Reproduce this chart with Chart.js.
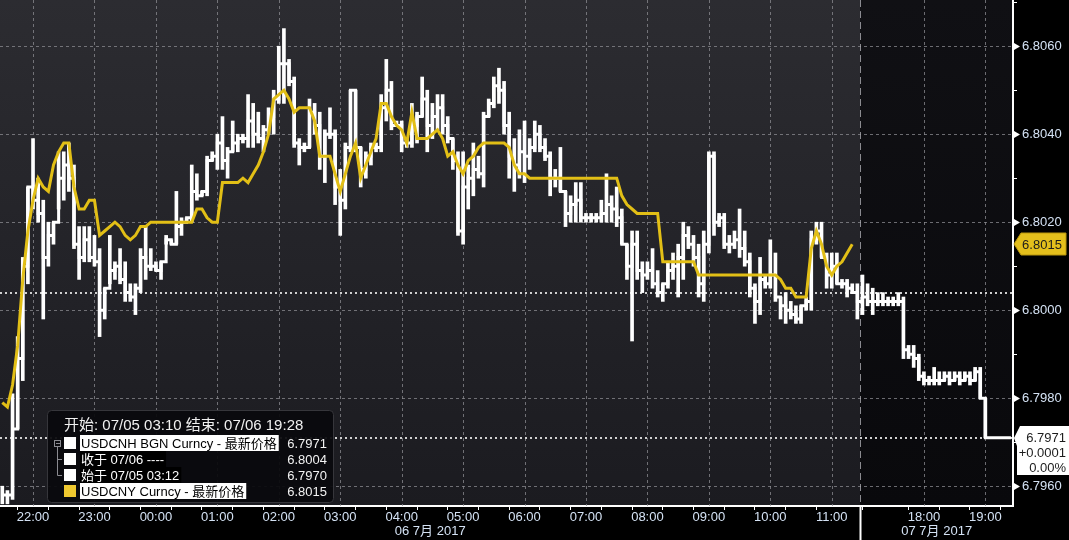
<!DOCTYPE html>
<html><head><meta charset="utf-8">
<script src="https://cdn.jsdelivr.net/npm/chart.js@4.4.1/dist/chart.umd.min.js"></script>
<style>html,body{margin:0;padding:0;background:#000;overflow:hidden}canvas{display:block}</style>
</head><body><canvas id="c" width="1069" height="540"></canvas>
<script>
// ---- data (5-minute bars, USDCNH; session 1 starts 21:30, session 2 starts 17:00) ----
const sessionStarts = ['21:30', '17:00'];
const sessionBars = [168, 30];
const barMinutes = 5;

const cnhHigh = [
6.7960,6.7959,6.7981,6.7994,6.8012,6.8028,6.8039,6.8030,6.8025,6.8020,
6.8020,6.8036,6.8036,6.8038,6.8033,6.8019,6.8019,6.8019,6.8017,6.8014,
6.8005,6.8017,6.8011,6.8014,6.8011,6.8006,6.8006,6.8014,6.8019,6.8014,
6.8011,6.8011,6.8017,6.8016,6.8027,6.8021,6.8021,6.8033,6.8031,6.8027,
6.8035,6.8036,6.8040,6.8044,6.8037,6.8043,6.8040,6.8040,6.8049,6.8047,
6.8045,6.8042,6.8046,6.8050,6.8060,6.8064,6.8057,6.8053,6.8039,6.8038,
6.8048,6.8047,6.8045,6.8041,6.8046,6.8041,6.8032,6.8038,6.8050,6.8050,
6.8037,6.8036,6.8038,6.8038,6.8049,6.8057,6.8052,6.8043,6.8043,6.8039,
6.8047,6.8045,6.8053,6.8050,6.8047,6.8049,6.8049,6.8044,6.8039,6.8036,
6.8036,6.8033,6.8038,6.8035,6.8045,6.8048,6.8053,6.8055,6.8052,6.8045,
6.8039,6.8041,6.8043,6.8039,6.8043,6.8042,6.8039,6.8036,6.8032,6.8037,
6.8027,6.8026,6.8029,6.8029,6.8022,6.8022,6.8022,6.8025,6.8031,6.8026,
6.8028,6.8023,6.8015,6.8018,6.8018,6.8011,6.8011,6.8014,6.8009,6.8006,
6.8011,6.8013,6.8015,6.8020,6.8019,6.8017,6.8015,6.8018,6.8036,6.8036,
6.8022,6.8022,6.8017,6.8018,6.8023,6.8018,6.8013,6.8006,6.8012,6.8008,
6.8016,6.8013,6.8003,6.8004,6.8002,6.8001,6.8001,6.8003,6.8018,6.8020,
6.8020,6.8013,6.8013,6.8013,6.8007,6.8007,6.8006,6.8006,6.8008,6.8006,
6.8005,6.8004,6.8004,6.8003,6.8003,6.8004,6.8003,6.7992,6.7992,6.7990,
6.7986,6.7985,6.7987,6.7986,6.7986,6.7986,6.7986,6.7986,6.7986,6.7986,
6.7987,6.7987,6.7980,6.7971,6.7971,6.7971,6.7971,6.7971];

const cnhLow = [
6.7956,6.7956,6.7957,6.7973,6.7984,6.8006,6.8023,6.8020,6.7998,6.8010,
6.8015,6.8023,6.8025,6.8027,6.8014,6.8007,6.8011,6.8011,6.8010,6.7994,
6.7998,6.8006,6.8007,6.8006,6.8002,6.8002,6.7999,6.8004,6.8007,6.8009,
6.8009,6.8007,6.8015,6.8015,6.8015,6.8017,6.8020,6.8020,6.8025,6.8026,
6.8026,6.8034,6.8032,6.8032,6.8030,6.8036,6.8036,6.8038,6.8037,6.8037,
6.8038,6.8036,6.8040,6.8040,6.8047,6.8047,6.8051,6.8037,6.8033,6.8036,
6.8037,6.8040,6.8032,6.8029,6.8039,6.8024,6.8017,6.8023,6.8036,6.8036,
6.8028,6.8030,6.8033,6.8036,6.8036,6.8043,6.8041,6.8042,6.8036,6.8037,
6.8037,6.8038,6.8044,6.8036,6.8039,6.8041,6.8040,6.8038,6.8032,6.8017,
6.8015,6.8023,6.8026,6.8030,6.8028,6.8044,6.8046,6.8047,6.8040,6.8030,
6.8027,6.8030,6.8029,6.8032,6.8036,6.8036,6.8034,6.8026,6.8028,6.8027,
6.8019,6.8020,6.8020,6.8020,6.8020,6.8020,6.8020,6.8020,6.8020,6.8020,
6.8019,6.8015,6.8007,6.7993,6.8007,6.8004,6.8007,6.8005,6.8003,6.8002,
6.8005,6.8007,6.8003,6.8007,6.8014,6.8010,6.8003,6.8002,6.8013,6.8017,
6.8019,6.8014,6.8013,6.8014,6.8012,6.8010,6.8003,6.7997,6.7999,6.8005,
6.8005,6.8002,6.7998,6.7997,6.7998,6.7997,6.7997,6.8000,6.8000,6.8015,
6.8012,6.8005,6.8005,6.8006,6.8005,6.8003,6.8004,6.7998,6.7999,6.8001,
6.7999,6.8001,6.8001,6.8001,6.8001,6.8001,6.7989,6.7989,6.7987,6.7984,
6.7983,6.7983,6.7983,6.7983,6.7984,6.7983,6.7984,6.7983,6.7984,6.7983,
6.7984,6.7980,6.7971,6.7971,6.7971,6.7971,6.7971,6.7971];

const cnhClose = [
6.7958,6.7958,6.7973,6.7989,6.8010,6.8028,6.8025,6.8022,6.8012,6.8017,
6.8020,6.8030,6.8033,6.8030,6.8015,6.8012,6.8016,6.8012,6.8011,6.8000,
6.8005,6.8009,6.8010,6.8007,6.8004,6.8003,6.8005,6.8012,6.8010,6.8010,
6.8009,6.8011,6.8016,6.8015,6.8019,6.8020,6.8021,6.8027,6.8026,6.8027,
6.8034,6.8035,6.8038,6.8034,6.8036,6.8038,6.8039,6.8039,6.8043,6.8040,
6.8039,6.8041,6.8044,6.8048,6.8056,6.8056,6.8052,6.8038,6.8037,6.8037,
6.8045,6.8042,6.8035,6.8040,6.8040,6.8028,6.8025,6.8037,6.8050,6.8037,
6.8032,6.8035,6.8037,6.8037,6.8046,6.8050,6.8042,6.8042,6.8038,6.8038,
6.8042,6.8044,6.8048,6.8042,6.8044,6.8046,6.8042,6.8039,6.8034,6.8018,
6.8028,6.8030,6.8032,6.8031,6.8044,6.8047,6.8051,6.8050,6.8042,6.8035,
6.8033,6.8036,6.8035,6.8037,6.8040,6.8037,6.8035,6.8030,6.8030,6.8027,
6.8022,6.8024,6.8025,6.8021,6.8021,6.8021,6.8021,6.8022,6.8024,6.8023,
6.8021,6.8015,6.8010,6.8015,6.8009,6.8008,6.8009,6.8006,6.8004,6.8006,
6.8009,6.8010,6.8012,6.8017,6.8015,6.8012,6.8006,6.8015,6.8035,6.8020,
6.8021,6.8015,6.8015,6.8016,6.8014,6.8011,6.8005,6.8002,6.8007,6.8006,
6.8008,6.8003,6.8001,6.8000,6.7999,6.7998,6.8001,6.8002,6.8016,6.8018,
6.8012,6.8008,6.8010,6.8006,6.8006,6.8005,6.8004,6.8002,6.8003,6.8002,
6.8002,6.8002,6.8002,6.8002,6.8002,6.8002,6.7991,6.7990,6.7989,6.7985,
6.7984,6.7984,6.7984,6.7984,6.7985,6.7984,6.7985,6.7984,6.7985,6.7984,
6.7986,6.7980,6.7971,6.7971,6.7971,6.7971,6.7971,6.7971];

// USDCNY, same 5-minute slots, session 1 only
const cnyLine = [
6.7979,6.7978,6.7983,6.7992,6.8007,6.8018,6.8025,6.8030,6.8028,6.8027,
6.8033,6.8036,6.8038,6.8038,6.8028,6.8023,6.8023,6.8025,6.8025,6.8017,
6.8018,6.8019,6.8020,6.8019,6.8017,6.8016,6.8017,6.8019,6.8019,6.8020,
6.8020,6.8020,6.8020,6.8020,6.8020,6.8020,6.8020,6.8020,6.8023,6.8023,
6.8021,6.8020,6.8020,6.8029,6.8029,6.8029,6.8029,6.8030,6.8029,6.8031,
6.8033,6.8036,6.8040,6.8048,6.8049,6.8050,6.8048,6.8045,6.8046,6.8046,
6.8046,6.8043,6.8035,6.8035,6.8035,6.8031,6.8027,6.8031,6.8035,6.8038,
6.8030,6.8033,6.8036,6.8039,6.8047,6.8047,6.8044,6.8042,6.8041,6.8038,
6.8045,6.8039,6.8039,6.8039,6.8040,6.8041,6.8039,6.8035,6.8036,6.8033,
6.8031,6.8034,6.8035,6.8037,6.8038,6.8038,6.8038,6.8038,6.8038,6.8037,
6.8033,6.8031,6.8031,6.8030,6.8030,6.8030,6.8030,6.8030,6.8030,6.8030,
6.8030,6.8030,6.8030,6.8030,6.8030,6.8030,6.8030,6.8030,6.8030,6.8030,
6.8030,6.8026,6.8024,6.8023,6.8022,6.8022,6.8022,6.8022,6.8022,6.8011,
6.8011,6.8011,6.8011,6.8011,6.8011,6.8011,6.8008,6.8008,6.8008,6.8008,
6.8008,6.8008,6.8008,6.8008,6.8008,6.8008,6.8008,6.8008,6.8008,6.8008,
6.8008,6.8008,6.8007,6.8005,6.8005,6.8003,6.8003,6.8003,6.8014,6.8018,
6.8015,6.8010,6.8008,6.8010,6.8011,6.8013,6.8015];

const xTickLabels = ['22:00','23:00','00:00','01:00','02:00','03:00','04:00','05:00','06:00','07:00','08:00','09:00','10:00','11:00','18:00','19:00'];
const yTickLabels = ['6.7960','6.7980','6.8000','6.8020','6.8040','6.8060'];
const dateLabels = ['06 7月 2017', '07 7月 2017'];
const prevClose = 6.8004;
const firstPrice = 6.7970;
const lastChange = '+0.0001';
const lastChangePct = '0.00%';
const legendTitle = '开始: 07/05 03:10 结束: 07/06 19:28';
const legendLabels = ['USDCNH BGN Curncy - 最新价格', '收于 07/06 ----', '始于 07/05 03:12', 'USDCNY Curncy - 最新价格'];

// ---- helpers ----
const lastPrice = cnhClose[cnhClose.length - 1];
const cnyLast = cnyLine[cnyLine.length - 1];
function toMin(t){ const p = t.split(':').map(Number); return p[0]*60 + p[1]; }
const s1 = toMin(sessionStarts[0]), s2 = toMin(sessionStarts[1]);
function slotOf(t){
  const m = toMin(t);
  const d1 = ((m - s1) % 1440 + 1440) % 1440;
  if (d1 / barMinutes < sessionBars[0]) return d1 / barMinutes;
  return sessionBars[0] + (m - s2) / barMinutes;
}
function timeOf(s){
  const m = s < sessionBars[0] ? s1 + s*barMinutes : s2 + (s - sessionBars[0])*barMinutes;
  const mm = ((m % 1440) + 1440) % 1440;
  return String(Math.floor(mm/60)).padStart(2,'0') + ':' + String(mm%60).padStart(2,'0');
}
const BREAK = sessionBars[0] - 0.4;
const XMIN = -0.45, XMAX = 197.4;
const halfHourTicks = [];
for (let s = 0; s < sessionBars[0]; s += 6) halfHourTicks.push(s);
for (let s = sessionBars[0] + 6; s <= XMAX; s += 6) halfHourTicks.push(s);
const yTickVals = [];
for (let k = 0; k <= 11; k++) yTickVals.push(Math.round((6.7960 + k*0.001)*10000)/10000);

const FONT = "'Liberation Sans', 'Noto Sans CJK SC', Arial, sans-serif";
const AXIS_TXT = '#d4e2f4';
Chart.defaults.font.family = FONT;

// ---- plugins ----
const bgPlugin = {
  id: 'bg',
  beforeDraw(chart){
    const {ctx, chartArea: a, scales: {x}} = chart;
    ctx.save();
    ctx.fillStyle = '#000'; ctx.fillRect(0, 0, chart.width, chart.height);
    const bx = x.getPixelForValue(BREAK);
    const g = ctx.createLinearGradient(0, a.top, 0, a.bottom);
    g.addColorStop(0, '#2c2c31'); g.addColorStop(1, '#1b1b20');
    ctx.fillStyle = g; ctx.fillRect(a.left, a.top, bx - a.left, a.bottom - a.top);
    const g2 = ctx.createLinearGradient(0, a.top, 0, a.bottom);
    g2.addColorStop(0, '#101014'); g2.addColorStop(1, '#09090c');
    ctx.fillStyle = g2; ctx.fillRect(bx, a.top, a.right - bx, a.bottom - a.top);
    ctx.restore();
  }
};

const gridPlugin = {
  id: 'gridlines',
  beforeDatasetsDraw(chart){
    const {ctx, chartArea: a, scales: {x, y}} = chart;
    ctx.save();
    ctx.beginPath(); ctx.rect(a.left, a.top, a.right - a.left, a.bottom - a.top); ctx.clip();
    ctx.lineWidth = 1; ctx.strokeStyle = 'rgba(140,140,146,0.75)'; ctx.setLineDash([3, 3]);
    xTickLabels.forEach(t => {
      const px = Math.round(x.getPixelForValue(slotOf(t))) + 0.5;
      ctx.beginPath(); ctx.moveTo(px, a.top); ctx.lineTo(px, a.bottom); ctx.stroke();
    });
    yTickLabels.forEach(t => {
      const py = Math.round(y.getPixelForValue(parseFloat(t))) + 0.5;
      ctx.beginPath(); ctx.moveTo(a.left, py); ctx.lineTo(a.right, py); ctx.stroke();
    });
    // session break
    ctx.strokeStyle = 'rgba(170,170,176,0.8)'; ctx.setLineDash([7, 4]);
    const bx = Math.round(x.getPixelForValue(BREAK)) + 0.5;
    ctx.beginPath(); ctx.moveTo(bx, a.top); ctx.lineTo(bx, a.bottom); ctx.stroke();
    // previous close & last price dotted lines
    ctx.strokeStyle = '#d0d0d0'; ctx.lineWidth = 2; ctx.setLineDash([2, 3]);
    [prevClose, lastPrice].forEach(v => {
      const py = Math.round(y.getPixelForValue(v));
      ctx.beginPath(); ctx.moveTo(a.left, py); ctx.lineTo(a.right, py); ctx.stroke();
    });
    ctx.restore();
  }
};

function roundRect(ctx, x, y, w, h, r){
  ctx.beginPath();
  ctx.moveTo(x + r, y); ctx.lineTo(x + w - r, y); ctx.quadraticCurveTo(x + w, y, x + w, y + r);
  ctx.lineTo(x + w, y + h - r); ctx.quadraticCurveTo(x + w, y + h, x + w - r, y + h);
  ctx.lineTo(x + r, y + h); ctx.quadraticCurveTo(x, y + h, x, y + h - r);
  ctx.lineTo(x, y + r); ctx.quadraticCurveTo(x, y, x + r, y); ctx.closePath();
}

const overlayPlugin = {
  id: 'overlay',
  afterDraw(chart){
    const {ctx, chartArea: a, scales: {x, y}} = chart;
    ctx.save();
    // y-axis major tick triangles
    ctx.fillStyle = '#ffffff';
    yTickLabels.forEach(t => {
      const py = Math.round(y.getPixelForValue(parseFloat(t))) + 0.5;
      ctx.beginPath(); ctx.moveTo(a.right + 1, py - 3.5); ctx.lineTo(a.right + 7, py); ctx.lineTo(a.right + 1, py + 3.5); ctx.closePath(); ctx.fill();
    });
    // yellow price tag (USDCNY last)
    const yy = Math.round(y.getPixelForValue(cnyLast));
    ctx.fillStyle = '#e4bf1c'; ctx.strokeStyle = '#b8950c'; ctx.lineWidth = 1;
    ctx.beginPath();
    ctx.moveTo(a.right + 1, yy); ctx.lineTo(a.right + 8, yy - 11); ctx.lineTo(1066, yy - 11);
    ctx.lineTo(1066, yy + 11); ctx.lineTo(a.right + 8, yy + 11); ctx.closePath(); ctx.fill(); ctx.stroke();
    ctx.fillStyle = '#1c1c1c'; ctx.font = '13px ' + FONT; ctx.textAlign = 'center'; ctx.textBaseline = 'middle';
    ctx.fillText(cnyLast.toFixed(4), 1042, yy + 1);
    // white last-price box
    const ly = Math.round(y.getPixelForValue(lastPrice));
    ctx.fillStyle = '#ffffff';
    ctx.beginPath();
    ctx.moveTo(a.right + 1, ly); ctx.lineTo(a.right + 7, ly - 12); ctx.lineTo(1069, ly - 12);
    ctx.lineTo(1069, ly + 37); ctx.lineTo(a.right + 4, ly + 37); ctx.lineTo(a.right + 4, ly + 8); ctx.closePath(); ctx.fill();
    ctx.fillStyle = '#1c1c1c'; ctx.textAlign = 'right';
    ctx.fillText(lastPrice.toFixed(4), 1066, ly);
    ctx.fillText(lastChange, 1066, ly + 15);
    ctx.fillText(lastChangePct, 1066, ly + 30);
    // x-axis session separator
    const bx = Math.round(x.getPixelForValue(BREAK)) + 0.5;
    ctx.strokeStyle = '#ffffff'; ctx.lineWidth = 2;
    ctx.beginPath(); ctx.moveTo(bx, a.bottom); ctx.lineTo(bx, chart.height); ctx.stroke();
    // date labels
    ctx.fillStyle = AXIS_TXT; ctx.textAlign = 'center'; ctx.font = '13px ' + FONT;
    ctx.fillText(dateLabels[0], (x.getPixelForValue(XMIN) + x.getPixelForValue(BREAK)) / 2, 531);
    ctx.fillText(dateLabels[1], (x.getPixelForValue(BREAK) + x.getPixelForValue(XMAX)) / 2, 531);
    // legend box
    roundRect(ctx, 47.5, 410.5, 286, 92, 4);
    ctx.fillStyle = 'rgba(10,10,13,0.94)'; ctx.fill();
    ctx.strokeStyle = '#36363b'; ctx.lineWidth = 1; ctx.stroke();
    ctx.textAlign = 'left'; ctx.textBaseline = 'middle';
    ctx.fillStyle = '#f0f0f0'; ctx.font = '15px ' + FONT;
    ctx.fillText(legendTitle, 64, 426);
    ctx.font = '13px ' + FONT;
    const rowY = [443, 459, 475, 491];
    const values = [lastPrice, prevClose, firstPrice, cnyLast];
    const swatches = ['#ffffff', '#ffffff', '#ffffff', '#f0c930'];
    const highlight = [true, false, false, true];
    // tree lines
    ctx.strokeStyle = '#8a8a90'; ctx.lineWidth = 1;
    ctx.strokeRect(54.5, 440.5, 6, 6);
    ctx.beginPath(); ctx.moveTo(56, 443.5); ctx.lineTo(60, 443.5); ctx.stroke();
    ctx.beginPath(); ctx.moveTo(57.5, 446.5); ctx.lineTo(57.5, 475.5); ctx.moveTo(57.5, 459.5); ctx.lineTo(62, 459.5); ctx.moveTo(57.5, 475.5); ctx.lineTo(62, 475.5); ctx.stroke();
    legendLabels.forEach((lab, i) => {
      const ry = rowY[i];
      ctx.fillStyle = swatches[i]; ctx.fillRect(64, ry - 6, 12, 12);
      const w = ctx.measureText(lab).width;
      ctx.fillStyle = highlight[i] ? '#ffffff' : '#000000';
      ctx.fillRect(80, ry - 8, w + 3, 16);
      ctx.fillStyle = highlight[i] ? '#000000' : '#ffffff';
      ctx.textAlign = 'left'; ctx.fillText(lab, 81, ry + 1);
      ctx.fillStyle = '#f2f2f2'; ctx.textAlign = 'right';
      ctx.fillText(values[i].toFixed(4), 327, ry + 1);
    });
    ctx.restore();
  }
};

// ---- chart ----
new Chart(document.getElementById('c'), {
  type: 'bar',
  data: {
    datasets: [
      {
        type: 'line', label: 'USDCNY', order: 0,
        data: cnyLine.map((v, i) => ({x: i, y: v})),
        borderColor: '#e2bf16', borderWidth: 3, pointRadius: 0, tension: 0, fill: false
      },
      {
        type: 'line', label: 'USDCNH close', order: 1,
        data: cnhClose.map((v, i) => ({x: i, y: v})),
        borderColor: '#ffffff', borderWidth: 3, pointRadius: 0, stepped: true, fill: false
      },
      {
        type: 'bar', label: 'USDCNH range', order: 2,
        data: cnhHigh.map((h, i) => ({x: i, y: [cnhLow[i], h]})),
        backgroundColor: '#ffffff', borderWidth: 0, barThickness: 3, borderSkipped: false
      }
    ]
  },
  options: {
    responsive: false, animation: false, devicePixelRatio: 1,
    layout: {padding: 0},
    plugins: {legend: {display: false}, tooltip: {enabled: false}},
    scales: {
      x: {
        type: 'linear', position: 'bottom', min: XMIN, max: XMAX, offset: false,
        afterFit: s => { s.height = 34; s.paddingLeft = 0; s.paddingRight = 0; },
        afterBuildTicks: s => { s.ticks = halfHourTicks.map(v => ({value: v})); },
        ticks: {
          autoSkip: false, maxRotation: 0, padding: 0, color: AXIS_TXT, font: {size: 13},
          callback: v => { const t = timeOf(v); return xTickLabels.includes(t) ? t : ''; }
        },
        grid: {drawOnChartArea: false, drawTicks: true, tickLength: 4, tickColor: '#ffffff', tickWidth: 1},
        border: {display: true, color: '#ffffff', width: 2}
      },
      y: {
        type: 'linear', position: 'right', min: 6.79555, max: 6.80705,
        afterFit: s => { s.width = 56; s.paddingTop = 0; s.paddingBottom = 0; },
        afterBuildTicks: s => { s.ticks = yTickVals.map(v => ({value: v})); },
        ticks: {
          padding: 5, color: AXIS_TXT, font: {size: 13},
          callback: v => { const t = v.toFixed(4); return yTickLabels.includes(t) ? t : ''; }
        },
        grid: {drawOnChartArea: false, drawTicks: true, tickLength: 4, tickColor: '#ffffff', tickWidth: 1},
        border: {display: true, color: '#ffffff', width: 2}
      }
    }
  },
  plugins: [bgPlugin, gridPlugin, overlayPlugin]
});
</script>
</body></html>
